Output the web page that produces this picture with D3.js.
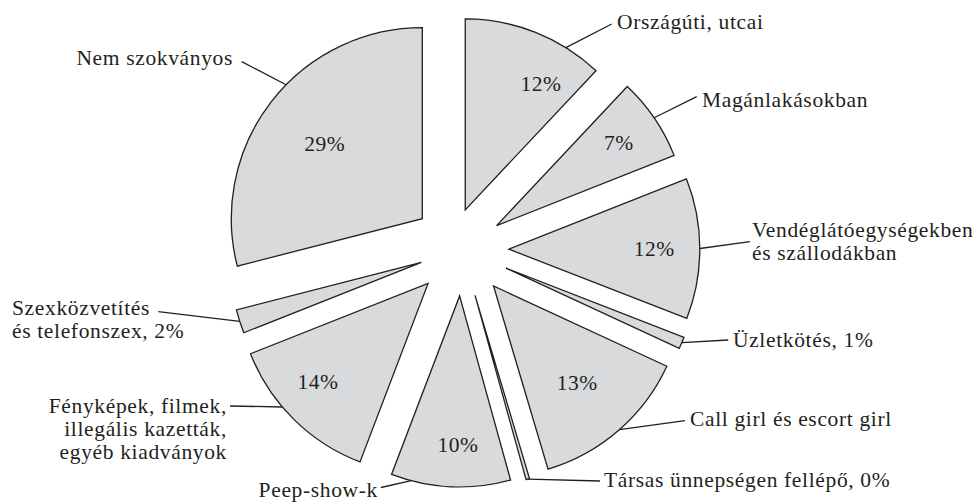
<!DOCTYPE html>
<html><head><meta charset="utf-8">
<script src="https://cdn.jsdelivr.net/npm/d3@7"></script>
<style>body{margin:0;background:#fff} svg{display:block}</style>
</head><body><svg id="c" width="980" height="502"></svg>
<script>
// ---- data ----
const categories = ["Országúti, utcai","Magánlakásokban","Vendéglátóegységekben és szállodákban","Üzletkötés","Call girl és escort girl","Társas ünnepségen fellépő","Peep-show-k","Fényképek, filmek, illegális kazetták, egyéb kiadványok","Szexközvetítés és telefonszex","Nem szokványos"];
const values = [12, 7, 11.9, 1, 13.5, 0.3, 10.1, 13.2, 2, 29];
const pctLabels = ["12%","7%","12%","","13%","","10%","14%","","29%"];
const calloutLines = [["Országúti, utcai"],["Magánlakásokban"],["Vendéglátóegységekben","és szállodákban"],["Üzletkötés, 1%"],["Call girl és escort girl"],["Társas ünnepségen fellépő, 0%"],["Peep-show-k"],["Fényképek, filmek,","illegális kazetták,","egyéb kiadványok"],["Szexközvetítés","és telefonszex, 2%"],["Nem szokványos"]];

// ---- layout / style ----
const cx = 461.8, cy = 249.3, R = 191;
const explodeDist = [39.5, 42, 47, 48, 48.5, 48, 46.7, 48, 42.5, 50];
const explodeDirOverride = [5, null, null, null, null, null, null, null, null, null];
const pctPos = [[147.8, 30.8],[148, null],[145.5, null],null,[128, null],null,[149, 180.6],[147.7, 228.2],null,[123.4, null]];
const callouts = [
  {a:31.8,  end:[611.7,24],   x:617, y:29,  anchor:"start"},
  {a:55.6,  end:[696.7,96.7], x:702, y:107, anchor:"start"},
  {a:89.8,  end:[750,241.7],  x:752, y:237, anchor:"start"},
  {a:113,   end:[728.3,340],  x:733, y:347, anchor:"start"},
  {a:138.8, end:[685,420.7],  x:690, y:426, anchor:"start"},
  {a:164,   end:[600,481],    x:604, y:487, anchor:"start"},
  {a:194.7, end:[381,487.5],  x:378, y:497, anchor:"end"},
  {a:229.7, end:[230,406],    x:227, y:413, anchor:"end"},
  {a:252,   end:[158.3,311.7],x:12,  y:315, anchor:"start"},
  {a:314.5, end:[241.7,61.7], x:233, y:65,  anchor:"end"}
];
const lineH = 23;
const FILL = "#d9dadc", INK = "#231f20";
const FONT = "'Liberation Serif','Times New Roman',serif";
const FS = 21.5, LS = 0.65;

const rad = d => d * Math.PI / 180;
const unit = a => [Math.sin(a), -Math.cos(a)];

const svg = d3.select("#c");
const pie = d3.pie().sort(null).value(d => d)(values);
const arc = d3.arc().innerRadius(0).outerRadius(R);

const tips = pie.map((p, i) => {
  const m = explodeDirOverride[i] != null ? rad(explodeDirOverride[i]) : (p.startAngle + p.endAngle) / 2;
  const u = unit(m);
  return [cx + explodeDist[i] * u[0], cy + explodeDist[i] * u[1]];
});

svg.append("g").selectAll("path.slice").data(pie).join("path")
  .attr("class", "slice")
  .attr("d", arc)
  .attr("transform", (d, i) => `translate(${tips[i][0]},${tips[i][1]})`)
  .attr("fill", FILL)
  .attr("stroke", INK)
  .attr("stroke-width", 1.3)
  .attr("stroke-linejoin", "miter");

// percent labels
pie.forEach((p, i) => {
  if (!pctLabels[i]) return;
  const [dist, ang] = pctPos[i];
  const a = ang != null ? rad(ang) : (p.startAngle + p.endAngle) / 2;
  const u = unit(a);
  svg.append("text")
    .attr("x", tips[i][0] + dist * u[0])
    .attr("y", tips[i][1] + dist * u[1])
    .attr("dy", "0.35em")
    .attr("text-anchor", "middle")
    .attr("font-family", FONT)
    .attr("font-size", FS)
    .attr("letter-spacing", 0.5)
    .attr("fill", INK)
    .text(pctLabels[i]);
});

// callouts
callouts.forEach((c, i) => {
  const u = unit(rad(c.a));
  const sx = tips[i][0] + R * u[0], sy = tips[i][1] + R * u[1];
  svg.append("line")
    .attr("x1", sx).attr("y1", sy)
    .attr("x2", c.end[0]).attr("y2", c.end[1])
    .attr("stroke", INK).attr("stroke-width", 1.3);
  const t = svg.append("text")
    .attr("font-family", FONT)
    .attr("font-size", FS)
    .attr("letter-spacing", LS)
    .attr("fill", INK)
    .attr("text-anchor", c.anchor);
  calloutLines[i].forEach((ln, k) => {
    t.append("tspan").attr("x", c.x).attr("y", c.y + k * lineH).text(ln);
  });
});
</script>
</body></html>
